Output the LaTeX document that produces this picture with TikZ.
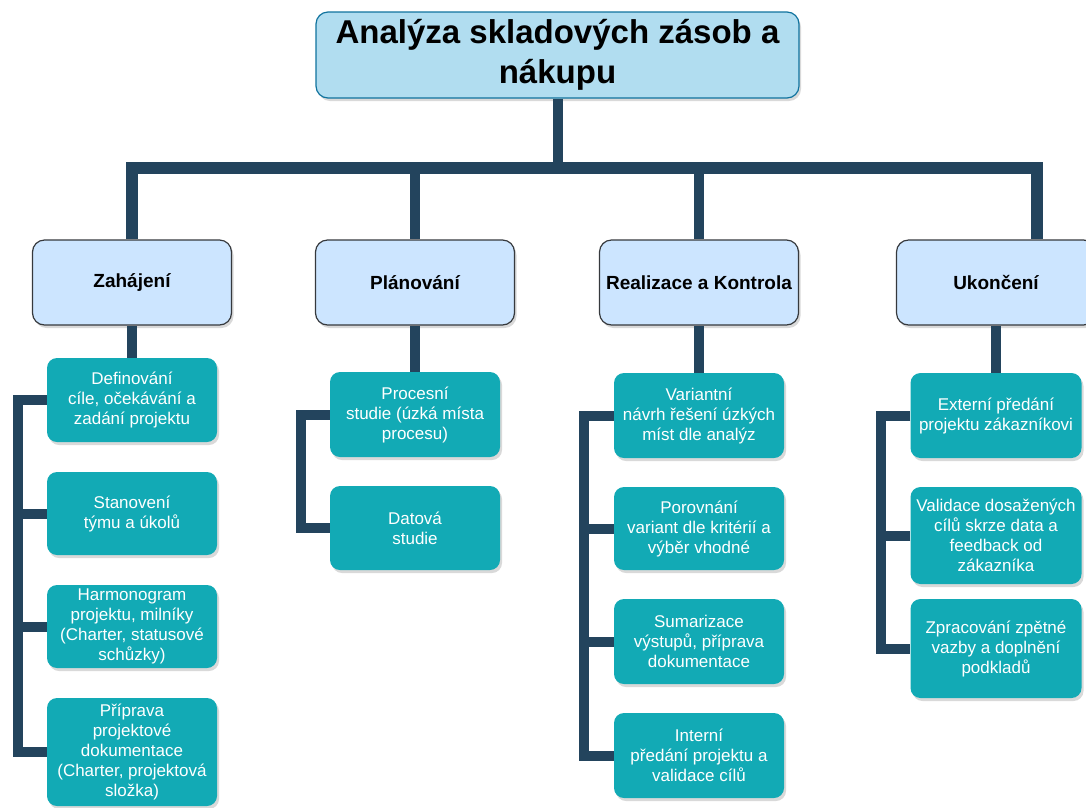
\documentclass[tikz,border=0pt]{standalone}
\usepackage{fontspec}
\setmainfont{Liberation Sans}
\usetikzlibrary{shadows}
\definecolor{linkcol}{HTML}{23445D}
\definecolor{titlefill}{HTML}{B1DDF0}
\definecolor{titleline}{HTML}{10739E}
\definecolor{phasefill}{HTML}{CCE5FF}
\definecolor{phaseline}{HTML}{36393D}
\definecolor{taskfill}{HTML}{12AAB5}

\begin{document}
\begin{tikzpicture}
	[x=1pt,y=-1pt,
	every node/.style={align=center,inner sep=2pt,
		drop shadow={shadow xshift=2pt,shadow yshift=-3pt,opacity=0.3}},
	head/.style={draw=titleline,fill=titlefill,line width=1.2pt,rounded corners=12pt,
		minimum width=483pt,minimum height=86pt,font=\bfseries\fontsize{33}{40}\selectfont},
	phase/.style={draw=phaseline,fill=phasefill,line width=1.2pt,rounded corners=12pt,
		minimum width=199pt,minimum height=85pt,font=\bfseries\fontsize{19}{23}\selectfont},
	task/.style={fill=taskfill,text=white,rounded corners=10pt,
		minimum width=170pt,font=\fontsize{17}{20}\selectfont},
	link/.style={draw=linkcol,line width=10pt}]
		\useasboundingbox (0,0) rectangle (1086,807);
		\node[head] (head) at (557.5,55) {Analýza skladových zásob a\\nákupu};
		\coordinate (bar) at (557.5,168);

		\node[phase] (zah) at (132,282.5) {Zahájení};
		\node[phase] (pla) at (415,282.5) {Plánování};
		\node[phase] (rea) at (699,282.5) {Realizace a Kontrola};
		\node[phase] (uko) at (996,282.5) {Ukončení};

		\node[task,minimum height=84pt] (zah1) at (132,400) {Definování\\cíle, očekávání a\\zadání projektu};
		\node[task,minimum height=83pt] (zah2) at (132,513.5) {Stanovení\\týmu a úkolů};
		\node[task,minimum height=83pt] (zah3) at (132,626.5) {Harmonogram\\projektu, milníky\\(Charter, statusové\\schůzky)};
		\node[task,minimum height=108pt] (zah4) at (132,752) {Příprava\\projektové\\dokumentace\\(Charter, projektová\\složka)};

		\node[task,minimum height=85pt] (pla1) at (415,414.5) {Procesní\\studie (úzká místa\\procesu)};
		\node[task,minimum height=84pt] (pla2) at (415,528) {Datová\\studie};

		\node[task,minimum height=85pt] (rea1) at (699,415.5) {Variantní\\návrh řešení úzkých\\míst dle analýz};
		\node[task,minimum height=83pt] (rea2) at (699,528.5) {Porovnání\\variant dle kritérií a\\výběr vhodné};
		\node[task,minimum height=85pt] (rea3) at (699,641.5) {Sumarizace\\výstupů, příprava\\dokumentace};
		\node[task,minimum height=85pt] (rea4) at (699,755.5) {Interní\\předání projektu a\\validace cílů};

		\node[task,minimum width=171pt,minimum height=85pt] (uko1) at (996,415.5) {Externí předání\\projektu zákazníkovi};
		\node[task,minimum width=171pt,minimum height=97pt] (uko2) at (996,535.5) {Validace dosažených\\cílů skrze data a\\feedback od\\zákazníka};
		\node[task,minimum width=171pt,minimum height=99pt] (uko3) at (996,648.5) {Zpracování zpětné\\vazby a doplnění\\podkladů};

		\draw[link] (head.south) -- (bar);
		\draw[link,line width=12pt] (bar) -| (zah.north);
		\draw[link] (bar) -| (pla.north);
		\draw[link] (bar) -| (rea.north);
		\draw[link,line width=12pt] (bar) -| ([xshift=41pt]uko.north);

		\draw[link] (zah) -- (zah1);
		\draw[link] (pla) -- (pla1);
		\draw[link] (rea) -- (rea1);
		\draw[link] (uko) -- (uko1);

		\draw[link] (zah1.west) -- ++(-29,0) |- (zah4.west);
		\draw[link] (zah2.west) -- ++(-29,0);
		\draw[link] (zah3.west) -- ++(-29,0);
		\draw[link] (pla1.west) -- ++(-29,0) |- (pla2.west);
		\draw[link] (rea1.west) -- ++(-30,0) |- (rea4.west);
		\draw[link] (rea2.west) -- ++(-30,0);
		\draw[link] (rea3.west) -- ++(-30,0);
		\draw[link] (uko1.west) -- ++(-29,0) |- (uko3.west);
		\draw[link] (uko2.west) -- ++(-29,0);
\end{tikzpicture}
\end{document}
